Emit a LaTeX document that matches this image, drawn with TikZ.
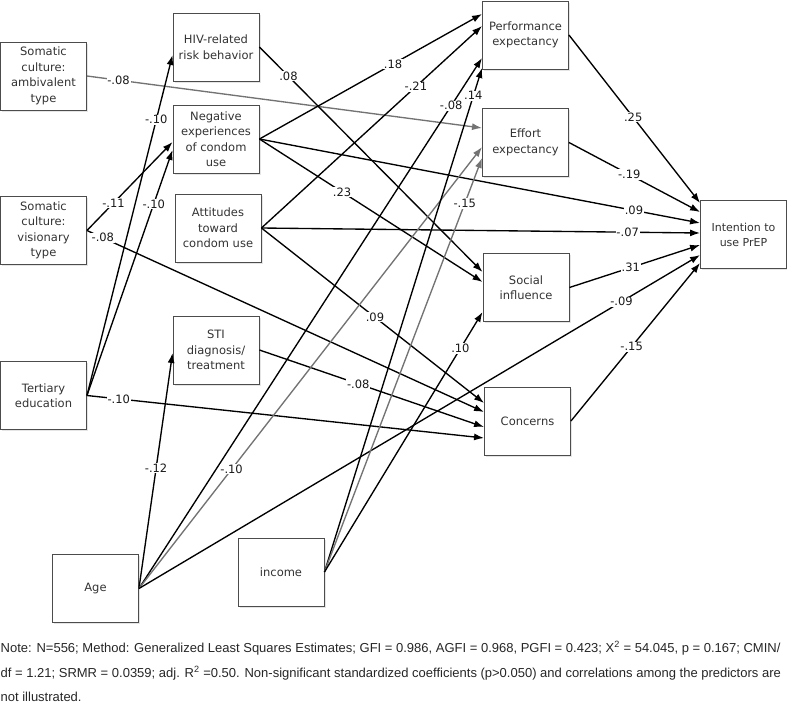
\documentclass[tikz,border=0pt]{standalone}
\usepackage{fontspec}
\setmainfont{DejaVu Sans}
\newfontfamily\notefont{Liberation Sans}
\usetikzlibrary{arrows.meta, shadows}

\tikzset{
  box/.style={draw=black!70, fill=white, text=black!80, align=center,
    line width=0.9pt, minimum width=86pt, minimum height=68pt, inner sep=1pt,
    font=\fontsize{11.5}{15.5}\selectfont,
    drop shadow={shadow xshift=1.5pt, shadow yshift=-1.5pt, fill=black!20}},
  coef/.style={fill=white, inner sep=0.8pt, text=black!90, font=\fontsize{11.5}{13}\selectfont},
  faint/.style={draw=black!55},
  note/.style={anchor=west, inner sep=0pt, text=black!85, font=\notefont\fontsize{13}{15}\selectfont},
}

\begin{document}
\begin{tikzpicture}[x=1pt, y=-1pt, ->, >={Latex[length=10pt,width=7pt]}, line width=1.35pt]
  \useasboundingbox (0,0) rectangle (787,707);

  % predictors
  \node[box] (amb) at (43.5,76) {Somatic\\culture:\\ambivalent\\type};
  \node[box] (vis) at (43.5,230.5) {Somatic\\culture:\\visionary\\type};
  \node[box] (ter) at (43.5,395.5) {Tertiary\\education};
  \node[box] (age) at (95.5,588.5) {Age};
  \node[box] (inc) at (281,572) {income};

  % mediators
  \node[box] (hiv) at (216,47) {HIV-related\\risk behavior};
  \node[box] (neg) at (216,139) {Negative\\experiences\\of condom\\use};
  \node[box] (att) at (218,228) {Attitudes\\toward\\condom use};
  \node[box] (sti) at (216,350) {STI\\diagnosis/\\treatment};

  % UTAUT factors
  \node[box] (perf) at (525.5,35) {Performance\\expectancy};
  \node[box] (eff) at (525.5,142.5) {Effort\\expectancy};
  \node[box] (soc) at (526,287.5) {Social\\influence};
  \node[box] (con) at (527.5,421) {Concerns};

  % outcome
  \node[box, font=\fontsize{11}{15}\selectfont] (int) at (743.5,234.5) {Intention to\\use PrEP};

  \path
  (amb.east) edge[faint] node[coef, pos=.08] {-.08} ([yshift=14.5pt]eff.west)
  (vis.east) edge node[coef, pos=.31] {-.11} ([yshift=-3pt]neg.west)
             edge node[coef, pos=.04] {-.08} ([yshift=9pt]con.west)
  (ter.east) edge node[coef, pos=.81] {-.10} ([yshift=-8pt]hiv.west)
             edge node[coef, pos=.78] {-.10} ([yshift=-11pt]neg.west)
             edge node[coef, pos=.08] {-.10} ([yshift=-17pt]con.west)
  ;

  \path
  (hiv.east) edge node[coef, pos=.13] {.08} ([yshift=15.5pt]soc.west)
  (neg.east) edge node[coef, pos=.6] {.18} ([yshift=21pt]perf.west)
             edge node[coef, pos=.37] {.23} ([yshift=5.5pt]soc.west)
             edge node[coef, pos=.85] {.09} ([yshift=11.5pt]int.west)
  (att.east) edge node[coef, pos=.7] {-.21} ([yshift=9pt]perf.west)
             edge node[coef, pos=.51] {.09} ([yshift=18pt]con.west)
             edge node[coef, pos=.835] {-.07} ([yshift=1.5pt]int.west)
  (sti.east) edge node[coef, pos=.44] {-.08} ([yshift=-6pt]con.west)
  ;

  \path
  (age.east) edge node[coef, pos=.51] {-.12} ([yshift=-3pt]sti.west)
             edge node[coef, pos=.91] {-.08} ([yshift=-23pt]perf.west)
             edge[faint] node[coef, pos=.27] {-.10} ([yshift=-4.5pt]eff.west)
             edge node[coef, pos=.86] {-.09} ([yshift=-20.5pt]int.west)
  (inc.east) edge node[coef, pos=.945] {.14} ([yshift=-33pt]perf.west)
             edge[faint] node[coef, pos=.89] {-.15} ([yshift=-15.5pt]eff.west)
             edge node[coef, pos=.86] {.10} ([yshift=-24.5pt]soc.west)
  ;

  \path
  (perf.east) edge node[coef, pos=.49] {.25} ([yshift=31.5pt]int.west)
  (eff.east)  edge node[coef, pos=.46] {-.19} ([yshift=22.5pt]int.west)
  (soc.east)  edge node[coef, pos=.47] {.31} ([yshift=-10.5pt]int.west)
  (con.east)  edge node[coef, pos=.47] {-.15} ([yshift=-28.5pt]int.west)
  ;

  % note
  \node[note] (note1) at (0,648) {Note: N=556; Method: Generalized Least Squares Estimates; GFI = 0.986, AGFI = 0.968, PGFI = 0.423; X\textsuperscript{2} = 54.045, p = 0.167; CMIN/};
  \node[note] (note2) at (0,673) {df = 1.21; SRMR = 0.0359; adj. R\textsuperscript{2} =0.50. Non-significant standardized coefficients (p>0.050) and correlations among the predictors are};
  \node[note] (note3) at (0,697) {not illustrated.};
\end{tikzpicture}
\end{document}
